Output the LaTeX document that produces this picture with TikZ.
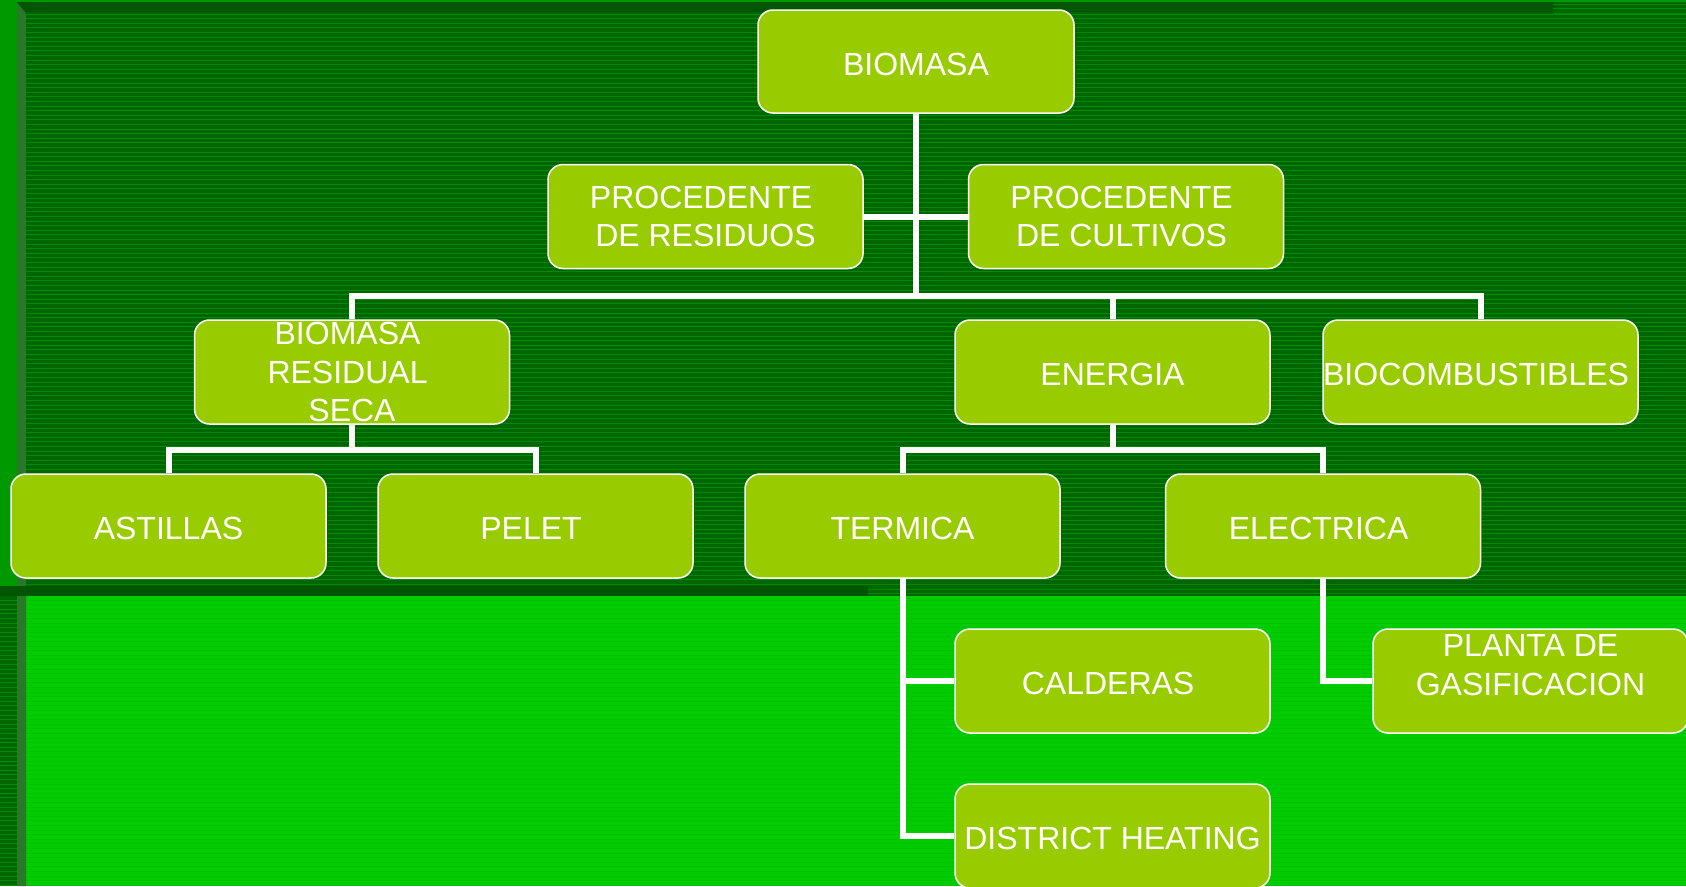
\documentclass[tikz,border=0pt]{standalone}
\usepackage{fontspec}
\setmainfont{Liberation Sans}
\definecolor{outerg}{HTML}{009900}
\definecolor{darkg}{HTML}{006600}
\definecolor{stripeg}{HTML}{008A00}
\definecolor{bandg}{HTML}{005500}
\definecolor{brightg}{HTML}{00CC00}
\definecolor{brightstripe}{HTML}{00C200}
\definecolor{edgeg}{HTML}{287A28}
\definecolor{boxg}{HTML}{99CC00}
\newcommand{\tsp}{\ \mbox{}}
\tikzset{
  box/.style={draw=white, line width=1.5pt, fill=boxg, rounded corners=15pt,
    minimum width=315pt, minimum height=104pt, inner sep=0pt, align=center,
    text=white, font=\fontsize{32}{38.5}\selectfont},
  one/.style={text height=27pt, text depth=0pt},
  conn/.style={draw=white, line width=6pt, line join=miter},
  stripe/.style={draw=stripeg, line width=1pt},
  bstripe/.style={draw=brightstripe, line width=0.8pt}
}
\begin{document}
\begin{tikzpicture}[x=1pt,y=-1pt]
\useasboundingbox (0,0) rectangle (1686,886);
% background
\fill[outerg] (0,0) rectangle (1686,886);
\fill[darkg] (17,2) rectangle (1686,596);
\foreach \y in {14,18.6,...,596} \draw[stripe] (26,\y) -- (1686,\y);
\foreach \y in {4,8.6,...,14} \draw[stripe] (1553,\y) -- (1686,\y);
\fill[darkg] (0,596) rectangle (17,886);
\foreach \y in {600,604.6,...,886} \draw[stripe] (0,\y) -- (17,\y);
\fill[brightg] (26,596) rectangle (1686,886);
\foreach \y in {600,604.6,...,886} \draw[bstripe] (26,\y) -- (1686,\y);
\fill[edgeg] (17,2) -- (26,14) -- (26,886) -- (17,886) -- cycle;
\fill[bandg] (17,2) -- (1553,2) -- (1553,12) -- (26,12) -- cycle;
\fill[bandg] (0,586) rectangle (868,596);
% nodes
\node[box, one, minimum width=316pt, minimum height=103pt] (biomasa) at (916,61.5) {BIOMASA};
\node[box] (resid) at (705.5,216.5) {PROCEDENTE\tsp\\DE RESIDUOS};
\node[box] (cult) at (1126,216.5) {PROCEDENTE\tsp\\DE CULTIVOS\tsp};
\node[box] (brs) at (352,372) {BIOMASA\tsp\\RESIDUAL\tsp\\SECA};
\node[box, one] (energia) at (1112.5,372) {ENERGIA};
\node[box, one] (biocomb) at (1480.5,372) {BIOCOMBUSTIBLES\ };
\node[box, one] (astillas) at (168.5,526) {ASTILLAS};
\node[box, one] (pelet) at (535.5,526) {PELET\ };
\node[box, one] (termica) at (902.5,526) {TERMICA};
\node[box, one] (electrica) at (1323,526) {ELECTRICA\ };
\node[box, one] (calderas) at (1112.5,681) {CALDERAS\ };
\node[box] (planta) at (1530.5,681) {\raisebox{6.5pt}[0pt][0pt]{\begin{tabular}{@{}c@{}}PLANTA DE\\GASIFICACION\end{tabular}}};
\node[box, one] (district) at (1112.5,836) {DISTRICT HEATING};
% junctions
\coordinate (j1) at (916,296);
\coordinate (j2) at (352,450);
\coordinate (j3) at (1112.5,450);
% connectors
\draw[conn] (biomasa.south) -- (j1);
\draw[conn] (resid.east) -- (cult.west);
\draw[conn] (brs.north) |- (j1) -| (biocomb.north);
\draw[conn] (j1) -| (energia.north);
\draw[conn] (brs.south) -- (j2);
\draw[conn] (astillas.north) |- (j2) -| (pelet.north);
\draw[conn] (energia.south) -- (j3);
\draw[conn] (termica.north) |- (j3) -| (electrica.north);
\draw[conn] (termica.south) |- (district.west);
\draw[conn] (termica.south |- calderas.west) -- (calderas.west);
\draw[conn] (electrica.south) |- (planta.west);
\end{tikzpicture}
\end{document}
